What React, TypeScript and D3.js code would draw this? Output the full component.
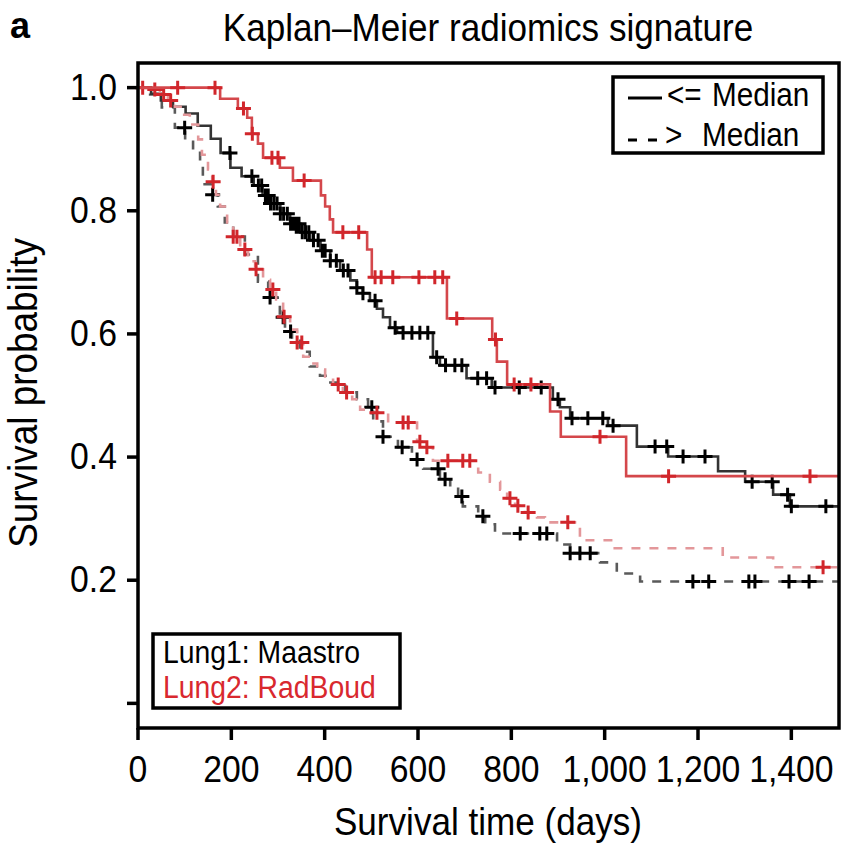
import * as d3 from "d3";

// Kaplan–Meier step events: [time in days, survival]
const redSolidTimes = [0, 176, 214, 234, 244, 257, 268, 304, 332, 392, 401, 411, 418, 491, 501, 662, 759, 769, 791, 883, 906, 1046];
const redSolidSurv = [1, 0.982, 0.966, 0.951, 0.925, 0.909, 0.886, 0.87, 0.849, 0.825, 0.807, 0.786, 0.765, 0.737, 0.692, 0.625, 0.591, 0.555, 0.518, 0.474, 0.433, 0.369];
const redSolidCens = [85, 165, 226, 245, 287, 300, 356, 439, 473, 508, 521, 546, 602, 636, 653, 683, 766, 806, 842, 990, 1137, 1440];

const blackSolidTimes = [0, 28, 49, 75, 102, 128, 156, 177, 198, 222, 248, 267, 284, 305, 326, 348, 369, 391, 412, 433, 455, 469, 482, 497, 512, 525, 540, 555, 632, 647, 704, 758, 889, 904, 926, 1007, 1069, 1136, 1243, 1301, 1361, 1397];
const blackSolidSurv = [1, 0.99, 0.979, 0.969, 0.958, 0.938, 0.917, 0.894, 0.87, 0.856, 0.841, 0.825, 0.812, 0.795, 0.779, 0.765, 0.752, 0.735, 0.719, 0.703, 0.687, 0.675, 0.666, 0.654, 0.641, 0.627, 0.61, 0.602, 0.562, 0.549, 0.528, 0.513, 0.494, 0.481, 0.463, 0.451, 0.417, 0.401, 0.377, 0.36, 0.339, 0.32];
const blackSolidCens = [197, 244, 258, 265, 273, 279, 284, 291, 298, 305, 312, 320, 327, 333, 339, 345, 352, 359, 366, 376, 386, 395, 401, 412, 425, 440, 450, 469, 482, 508, 551, 568, 587, 604, 621, 640, 659, 679, 694, 728, 747, 765, 817, 864, 900, 930, 964, 996, 1018, 1108, 1133, 1168, 1215, 1316, 1359, 1392, 1400, 1474];

const redDashTimes = [0, 26, 47, 64, 79, 96, 111, 129, 137, 150, 159, 167, 176, 191, 204, 219, 236, 251, 268, 283, 296, 311, 326, 341, 354, 369, 384, 401, 418, 439, 459, 476, 501, 536, 598, 619, 632, 729, 754, 776, 791, 808, 829, 855, 872, 947, 1018, 1253, 1361];
const redDashSurv = [1, 0.997, 0.989, 0.979, 0.969, 0.956, 0.94, 0.916, 0.891, 0.867, 0.847, 0.826, 0.807, 0.781, 0.758, 0.737, 0.718, 0.705, 0.688, 0.672, 0.656, 0.628, 0.607, 0.586, 0.563, 0.552, 0.542, 0.531, 0.518, 0.505, 0.494, 0.477, 0.472, 0.456, 0.425, 0.416, 0.394, 0.375, 0.36, 0.347, 0.333, 0.321, 0.31, 0.302, 0.294, 0.265, 0.252, 0.237, 0.221];
const redDashCens = [10, 36, 55, 70, 161, 204, 212, 229, 253, 289, 313, 341, 351, 429, 447, 512, 568, 579, 604, 619, 664, 696, 711, 797, 814, 836, 921, 1468];

const blackDashTimes = [0, 26, 51, 79, 101, 118, 133, 139, 159, 171, 186, 204, 229, 257, 279, 304, 315, 330, 347, 368, 390, 405, 444, 469, 493, 504, 525, 557, 587, 611, 647, 669, 686, 696, 729, 744, 765, 898, 926, 990, 1026, 1076];
const blackDashSurv = [1, 0.989, 0.968, 0.935, 0.912, 0.899, 0.875, 0.843, 0.826, 0.807, 0.781, 0.758, 0.729, 0.685, 0.659, 0.627, 0.604, 0.589, 0.571, 0.547, 0.532, 0.521, 0.505, 0.494, 0.481, 0.458, 0.433, 0.416, 0.396, 0.381, 0.364, 0.352, 0.336, 0.32, 0.304, 0.291, 0.276, 0.258, 0.244, 0.229, 0.211, 0.198];
const blackDashCens = [100, 160, 283, 311, 327, 501, 525, 566, 598, 643, 658, 694, 739, 819, 861, 876, 926, 947, 969, 1189, 1223, 1309, 1322, 1395, 1438];

const xTicks = [0, 200, 400, 600, 800, 1000, 1200, 1400];
const yTicks = [0, 0.2, 0.4, 0.6, 0.8, 1.0];
const maxTime = 1500;

const FONT = "'Liberation Sans', Arial, Helvetica, sans-serif";
const SQ = 0.9; // horizontal squeeze of the original lettering

function Txt({ x, y, size, anchor = "start", fill = "#000", rotate = 0, weight = "normal", squeeze = SQ, children }: any) {
  const rot = rotate ? ` rotate(${rotate})` : "";
  return (
    <text
      transform={`translate(${x},${y})${rot} scale(${squeeze},1)`}
      fontSize={size}
      fontFamily={FONT}
      fontWeight={weight}
      textAnchor={anchor}
      fill={fill}
    >
      {children}
    </text>
  );
}

export default function App() {
  const width = 848;
  const height = 843;
  const left = 138, right = 838, top = 63, bottom = 728;

  const x = d3.scaleLinear().domain([0, maxTime]).range([left, right]);
  const y = d3.scaleLinear().domain([-0.04, 1.04]).range([bottom, top]);

  const line = d3
    .line<[number, number]>()
    .x((d) => x(d[0]))
    .y((d) => y(d[1]))
    .curve(d3.curveStepAfter);

  const mk = (times: number[], surv: number[]) => {
    const pts: [number, number][] = times.map((t, i) => [t, surv[i]]);
    pts.push([maxTime, surv[surv.length - 1]]);
    return pts;
  };
  const survAt = (times: number[], surv: number[], t: number) => {
    const i = d3.bisectRight(times, t) - 1;
    return surv[Math.max(0, i)];
  };
  const plus = (times: number[], surv: number[], cens: number[]) =>
    cens
      .map((t) => {
        const cx = x(t);
        const cy = y(survAt(times, surv, t));
        return `M${cx - 7.5},${cy}h15M${cx},${cy - 7}v14`;
      })
      .join("");

  const curves = [
    { times: blackDashTimes, surv: blackDashSurv, cens: blackDashCens, line: "#5a5a5a", mark: "#000", dash: "9,9" },
    { times: blackSolidTimes, surv: blackSolidSurv, cens: blackSolidCens, line: "#333", mark: "#000", dash: null },
    { times: redDashTimes, surv: redDashSurv, cens: redDashCens, line: "#e3979a", mark: "#d1262b", dash: "9,9" },
    { times: redSolidTimes, surv: redSolidSurv, cens: redSolidCens, line: "#d4474b", mark: "#d1262b", dash: null },
  ];

  const fmt = d3.format(",");

  return (
    <svg width={width} height={height} style={{ position: "absolute", left: 0, top: 0, background: "#fff" }}>
      <rect x={0} y={0} width={width} height={height} fill="#fff" />

      {/* headings */}
      <Txt x={10} y={38} size={36} weight="bold" squeeze={1}>a</Txt>
      <Txt x={(left + right) / 2} y={41} size={39} anchor="middle">Kaplan–Meier radiomics signature</Txt>

      {/* curves */}
      {curves.map((c, i) => (
        <g key={i}>
          <path
            d={line(mk(c.times, c.surv)) || ""}
            fill="none"
            stroke={c.line}
            strokeWidth={2.6}
            strokeDasharray={c.dash || undefined}
          />
          <path d={plus(c.times, c.surv, c.cens)} fill="none" stroke={c.mark} strokeWidth={3} />
        </g>
      ))}

      {/* frame */}
      <rect x={left} y={top} width={right - left + 1} height={bottom - top} fill="none" stroke="#000" strokeWidth={3.5} />

      {/* y axis */}
      {yTicks.map((v) => (
        <g key={v}>
          <line x1={127} x2={left} y1={y(v)} y2={y(v)} stroke="#000" strokeWidth={3.5} />
          {v > 0 && (
            <Txt x={117} y={y(v) + 12} size={37.5} anchor="end">{v.toFixed(1)}</Txt>
          )}
        </g>
      ))}
      <Txt x={37} y={393} size={41} anchor="middle" rotate={-90}>Survival probability</Txt>

      {/* x axis */}
      {xTicks.map((v) => (
        <g key={v}>
          <line x1={x(v)} x2={x(v)} y1={bottom} y2={bottom + 12} stroke="#000" strokeWidth={3.5} />
          <Txt x={x(v)} y={782} size={37.5} anchor="middle">{fmt(v)}</Txt>
        </g>
      ))}
      <Txt x={(left + right) / 2} y={835} size={39} anchor="middle">Survival time (days)</Txt>

      {/* legend: groups */}
      <rect x={613} y={77} width={210} height={76} fill="#fff" stroke="#000" strokeWidth={3.5} />
      <line x1={628} x2={662} y1={98} y2={98} stroke="#000" strokeWidth={3} />
      <Txt x={667} y={106} size={33}>{"<="}</Txt>
      <Txt x={712} y={106} size={33}>Median</Txt>
      <line x1={628} x2={662} y1={140} y2={140} stroke="#000" strokeWidth={3} strokeDasharray="9,11" />
      <Txt x={665} y={146} size={33}>{">"}</Txt>
      <Txt x={702} y={146} size={33}>Median</Txt>

      {/* legend: cohorts */}
      <rect x={153} y={634} width={247} height={74} fill="#fff" stroke="#000" strokeWidth={3.5} />
      <Txt x={163} y={663} size={31.5}>Lung1: Maastro</Txt>
      <Txt x={163} y={698} size={31.5} fill="#d9282e">Lung2: RadBoud</Txt>
    </svg>
  );
}
